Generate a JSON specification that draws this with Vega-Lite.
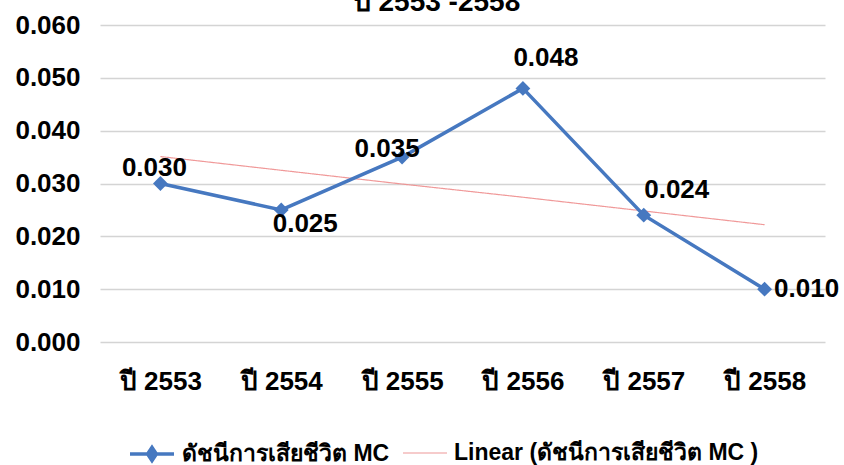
{
  "$schema": "https://vega.github.io/schema/vega-lite/v6.json",
  "width": 725,
  "height": 317,
  "autosize": {"type": "none"},
  "padding": {"left": 100, "top": 25, "right": 19, "bottom": 123},
  "background": "white",
  "config": {
    "font": "Liberation Sans",
    "view": {"stroke": null},
    "axis": {"labelFont": "Liberation Sans", "labelFontWeight": "bold", "labelColor": "#000000", "labelFontSize": 26, "domain": false, "ticks": false, "title": null},
    "legend": {"labelFont": "Liberation Sans", "labelFontSize": 23, "labelFontWeight": "bold", "labelColor": "#000000", "labelLimit": 500, "title": null, "orient": "none", "direction": "horizontal", "labelOffset": 6}
  },
  "title": {"text": "ปี 2553 -2558", "font": "Liberation Sans", "fontSize": 28, "fontWeight": "bold", "color": "#000000", "anchor": "middle", "dx": -26, "dy": 9},
  "data": {
    "values": [
      {"year": "ปี 2553", "value": 0.030, "trend": 0.0351},
      {"year": "ปี 2554", "value": 0.025, "trend": 0.0325},
      {"year": "ปี 2555", "value": 0.035, "trend": 0.0299},
      {"year": "ปี 2556", "value": 0.048, "trend": 0.0274},
      {"year": "ปี 2557", "value": 0.024, "trend": 0.0248},
      {"year": "ปี 2558", "value": 0.010, "trend": 0.0222}
    ]
  },
  "encoding": {
    "x": {"field": "year", "type": "ordinal", "sort": null, "scale": {"type": "point", "padding": 0.5}, "axis": {"labelAngle": 0, "labelPadding": 26, "grid": false}}
  },
  "layer": [
    {
      "mark": {"type": "line", "strokeWidth": 1.2, "opacity": 0.9, "color": "#EE8E8E"},
      "encoding": {
        "y": {"field": "trend", "type": "quantitative", "scale": {"domain": [0, 0.06]}, "axis": {"values": [0, 0.01, 0.02, 0.03, 0.04, 0.05, 0.06], "format": ".3f", "labelPadding": 20, "gridColor": "#D4D4D4", "gridWidth": 1.5}},
        "strokeDash": {
          "datum": "Linear (ดัชนีการเสียชีวิต MC )",
          "scale": {"domain": ["Linear (ดัชนีการเสียชีวิต MC )"], "range": [[1, 0]]},
          "legend": {"legendX": 302, "legendY": 405, "symbolType": "stroke", "symbolSize": 1936, "symbolStrokeColor": "#EE8E8E", "symbolStrokeWidth": 1.2, "symbolOpacity": 0.9}
        }
      }
    },
    {
      "mark": {"type": "line", "strokeWidth": 3.5},
      "encoding": {
        "y": {"field": "value", "type": "quantitative"},
        "color": {
          "datum": "ดัชนีการเสียชีวิต MC",
          "scale": {"domain": ["ดัชนีการเสียชีวิต MC"], "range": ["#4678C0"]},
          "legend": {"legendX": 28, "legendY": 405, "symbolSize": 1936, "symbolStrokeWidth": 3.5, "symbolType": "M-1,0L1,0M0,-0.3L0.2,0L0,0.3L-0.2,0ZM0,-0.15L0.1,0L0,0.15L-0.1,0Z"}
        }
      }
    },
    {
      "mark": {"type": "point", "shape": "diamond", "filled": true, "size": 220, "opacity": 1, "color": "#4678C0"},
      "encoding": {"y": {"field": "value", "type": "quantitative"}}
    },
    {"transform": [{"filter": "datum.year == 'ปี 2553'"}], "mark": {"type": "text", "fontSize": 26, "fontWeight": "bold", "color": "#000000", "dx": -6, "dy": -16}, "encoding": {"y": {"field": "value", "type": "quantitative"}, "text": {"field": "value", "format": ".3f"}}},
    {"transform": [{"filter": "datum.year == 'ปี 2554'"}], "mark": {"type": "text", "fontSize": 26, "fontWeight": "bold", "color": "#000000", "dx": 24, "dy": 14}, "encoding": {"y": {"field": "value", "type": "quantitative"}, "text": {"field": "value", "format": ".3f"}}},
    {"transform": [{"filter": "datum.year == 'ปี 2555'"}], "mark": {"type": "text", "fontSize": 26, "fontWeight": "bold", "color": "#000000", "dx": -15, "dy": -8}, "encoding": {"y": {"field": "value", "type": "quantitative"}, "text": {"field": "value", "format": ".3f"}}},
    {"transform": [{"filter": "datum.year == 'ปี 2556'"}], "mark": {"type": "text", "fontSize": 26, "fontWeight": "bold", "color": "#000000", "dx": 23, "dy": -30}, "encoding": {"y": {"field": "value", "type": "quantitative"}, "text": {"field": "value", "format": ".3f"}}},
    {"transform": [{"filter": "datum.year == 'ปี 2557'"}], "mark": {"type": "text", "fontSize": 26, "fontWeight": "bold", "color": "#000000", "dx": 33, "dy": -25}, "encoding": {"y": {"field": "value", "type": "quantitative"}, "text": {"field": "value", "format": ".3f"}}},
    {"transform": [{"filter": "datum.year == 'ปี 2558'"}], "mark": {"type": "text", "fontSize": 26, "fontWeight": "bold", "color": "#000000", "dx": 42, "dy": 0}, "encoding": {"y": {"field": "value", "type": "quantitative"}, "text": {"field": "value", "format": ".3f"}}}
  ]
}
